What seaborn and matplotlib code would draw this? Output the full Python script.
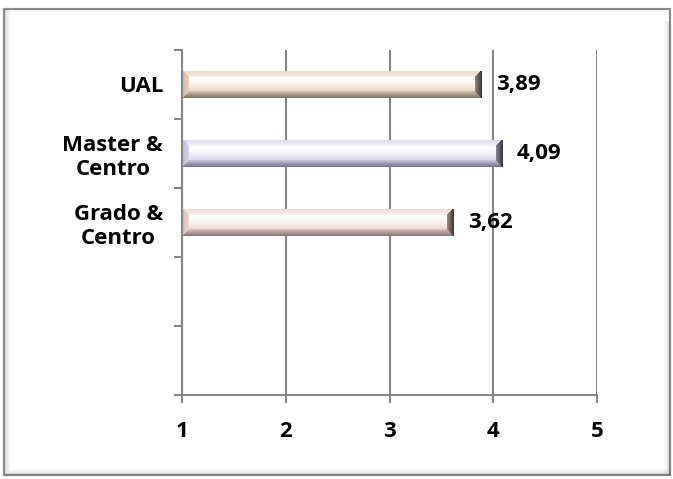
import matplotlib.pyplot as plt
import matplotlib.patches as mpatches
import matplotlib.colors as mcolors
import numpy as np
import pandas as pd
import seaborn as sns

# Chart values
categories = ["UAL", "Master &\nCentro", "Grado &\nCentro"]
values = [3.89, 4.09, 3.62]
value_labels = ["3,89", "4,09", "3,62"]
x_ticks = [1, 2, 3, 4, 5]

# bar colours: light base tone and the dark tone of the lower bevel
base_colors = ["#e8d3bd", "#d9d4ea", "#eed6d2"]
dark_colors = ["#7d7064", "#75728a", "#857473"]

sns.set_theme(style="white")
plt.rcParams["font.family"] = ["Open Sans", "DejaVu Sans"]
plt.rcParams["font.weight"] = "bold"
plt.rcParams["text.color"] = "black"
plt.rcParams["xtick.labelcolor"] = "black"
plt.rcParams["ytick.labelcolor"] = "black"

df = pd.DataFrame({"grupo": categories, "valor": values})

fig = plt.figure(figsize=(6.73, 4.79), dpi=100)
ax = fig.add_axes([182 / 673, 1 - 395 / 479, 415 / 673, 345 / 479])

sns.barplot(data=df, x="valor", y="grupo", hue="grupo", order=categories,
            palette=base_colors, legend=False, width=0.4, ax=ax,
            edgecolor="none", saturation=1)

ax.set_xlim(1, 5)
ax.set_ylim(4.5, -0.5)
ax.set_xticks(x_ticks)
ax.set_xticklabels([str(t) for t in x_ticks], fontsize=16, fontweight="bold")
ax.set_yticks(range(len(categories)))
ax.set_yticklabels(categories, fontsize=16, fontweight="bold")
for t in ax.get_yticklabels():
    t.set_multialignment("center")
ax.set_yticks(np.arange(-0.5, 5, 1), minor=True)
ax.set_xlabel("")
ax.set_ylabel("")

gray = "#868686"
ax.grid(axis="x", color=gray, linewidth=1.5)
ax.set_axisbelow(True)
for side in ["top", "right"]:
    ax.spines[side].set_visible(False)
for side in ["left", "bottom"]:
    ax.spines[side].set_color(gray)
    ax.spines[side].set_linewidth(1.5)
ax.tick_params(axis="x", which="major", direction="out", length=6, width=1.5,
               color=gray, pad=13, bottom=True)
ax.tick_params(axis="y", which="major", length=0, pad=13.5)
ax.tick_params(axis="y", which="minor", direction="out", length=6, width=1.5,
               color=gray, left=True)


def mix(c1, c2, t):
    t = np.asarray(t)[..., None]
    return c1 * (1 - t) + c2 * t


def bevel_image(w, h, base, dark, bev=7.5):
    base = np.array(base)
    dark = np.array(dark)
    white = np.ones(3)
    xs = np.arange(w) + 0.5
    ys = np.arange(h) + 0.5
    X, Y = np.meshgrid(xs, ys)
    dt, db, dl, dr = Y, h - Y, X, w - X
    # face: white at the top fading into the base tone towards the bottom
    tf = np.clip((Y - bev) / max(h - 2 * bev, 1), 0, 1)
    img = mix(white, base, 0.9 * tf ** 1.5)
    dmin = np.minimum.reduce([dt, db, dl, dr])
    edge = dmin < bev
    top = edge & (dt == dmin)
    bottom = edge & (db == dmin)
    left = edge & (dl == dmin)
    right = edge & (dr == dmin)
    st = dt / bev
    img[top] = mix(base, mix(base, white, 0.7), np.clip(st, 0, 1))[top]
    sb = 1 - db / bev
    img[bottom] = mix(base, dark, np.clip(sb, 0, 1) ** 0.8)[bottom]
    sl = dl / bev
    img[left] = mix(mix(base, dark, 0.25), base, np.clip(sl, 0, 1))[left]
    sr = 1 - dr / bev
    img[right] = mix(mix(dark, base, 0.3), dark * 0.45, np.clip(sr, 0, 1))[right]
    return np.clip(img, 0, 1)


bars = [p for c in ax.containers for p in c]
for patch, v, base, dark in zip(bars, values, base_colors, dark_colors):
    patch.set_x(1)
    patch.set_width(v - 1)
    y0, hgt = patch.get_y(), patch.get_height()
    (px0, py0) = ax.transData.transform((1, y0))
    (px1, py1) = ax.transData.transform((v, y0 + hgt))
    wpx, hpx = int(round(abs(px1 - px0))), int(round(abs(py1 - py0)))
    img = bevel_image(wpx, hpx, mcolors.to_rgb(base), mcolors.to_rgb(dark))
    im = ax.imshow(img, extent=[1, v, y0 + hgt, y0], aspect="auto",
                   interpolation="bilinear", zorder=2)
    im.set_clip_path(patch)

for c, lab in zip(ax.containers, value_labels):
    ax.bar_label(c, labels=[lab], padding=10, fontsize=16, fontweight="bold",
                 color="black")

# outer chart frame with a soft shadow on the left, bottom and right
x0, y0 = 4 / 673, 1 - 475 / 479
fw, fh = 666 / 673, 466 / 479
for k in range(1, 7):
    a = 0.10 * (1 - k / 7)
    fig.add_artist(plt.Line2D([x0 + k / 673] * 2, [y0 + k / 479, y0 + fh],
                              transform=fig.transFigure, color="black",
                              alpha=a, linewidth=1))
    fig.add_artist(plt.Line2D([x0 + k / 673, x0 + fw], [y0 + k / 479] * 2,
                              transform=fig.transFigure, color="black",
                              alpha=a, linewidth=1))
    fig.add_artist(plt.Line2D([x0 + fw - k / 673] * 2, [y0, y0 + fh - 12 / 479],
                              transform=fig.transFigure, color="black",
                              alpha=a, linewidth=1))
fig.add_artist(mpatches.Rectangle((x0, y0), fw, fh, transform=fig.transFigure,
                                  fill=False, edgecolor="#8c8c8c", linewidth=1.6))

fig.savefig("out.png", dpi=100)
